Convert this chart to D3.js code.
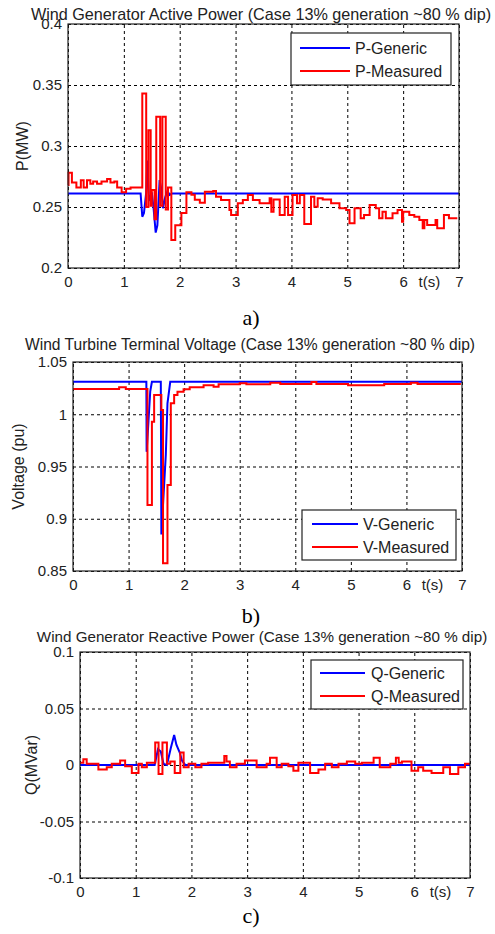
<!DOCTYPE html>
<html>
<head>
<meta charset="utf-8">
<script src="https://cdn.jsdelivr.net/npm/d3@7"></script>
<style>
  body { margin: 0; background: #fff; }
  svg { display: block; }
</style>
</head>
<body>
<div id="chart"></div>
<script>
const timeTicks = [0, 1, 2, 3, 4, 5, 6, 7]

// a) active power
const pTicks = [0.2, 0.25, 0.3, 0.35, 0.4]
const pGenT = [0, 1.30, 1.33, 1.36, 1.40, 1.42, 1.45, 1.50, 1.53, 1.57, 1.60, 1.64, 1.67, 1.70, 1.74, 1.78, 1.82, 1.86, 7]
const pGenV = [0.261, 0.261, 0.242, 0.245, 0.262, 0.288, 0.255, 0.262, 0.250, 0.229, 0.235, 0.272, 0.265, 0.249, 0.258, 0.263, 0.260, 0.261, 0.261]
const pMeasT = [0, 0.01, 0.07, 0.15, 0.23, 0.28, 0.34, 0.40, 0.45, 0.52, 0.60, 0.70, 0.76, 0.83, 0.88, 0.96, 1.04, 1.12, 1.33, 1.40,
  1.44, 1.48, 1.50, 1.55, 1.58, 1.65, 1.69, 1.75, 1.79, 1.85, 1.92, 2.03, 2.12, 2.21, 2.27, 2.36, 2.45, 2.60, 2.65, 2.74,
  2.89, 2.92, 3.04, 3.13, 3.22, 3.31, 3.43, 3.61, 3.64, 3.68, 3.79, 3.88, 3.94, 4.02, 4.10, 4.15, 4.23, 4.35, 4.41, 4.47,
  4.56, 4.71, 4.86, 4.98, 5.04, 5.13, 5.24, 5.30, 5.40, 5.51, 5.57, 5.63, 5.69, 5.81, 5.90, 5.98, 6.00, 6.11, 6.20, 6.29,
  6.35, 6.38, 6.43, 6.58, 6.61, 6.73, 6.82, 6.97]
const pMeasV = [0.268, 0.278, 0.270, 0.266, 0.272, 0.266, 0.272, 0.269, 0.271, 0.269, 0.271, 0.273, 0.270, 0.271, 0.266, 0.262, 0.265, 0.266, 0.343, 0.250,
  0.313, 0.251, 0.264, 0.240, 0.324, 0.251, 0.324, 0.248, 0.266, 0.223, 0.235, 0.245, 0.262, 0.260, 0.256, 0.2535, 0.2626, 0.2631, 0.2585, 0.2558,
  0.2476, 0.2435, 0.253, 0.2558, 0.2599, 0.2558, 0.253, 0.2571, 0.2462, 0.2562, 0.2435, 0.2585, 0.2435, 0.2599, 0.253, 0.2599, 0.2361, 0.2585, 0.2503, 0.2571,
  0.2562, 0.253, 0.2489, 0.2476, 0.2366, 0.2489, 0.2407, 0.2435, 0.2517, 0.2489, 0.2407, 0.2462, 0.2407, 0.2449, 0.2476, 0.238, 0.2462, 0.2435, 0.2421, 0.2394,
  0.2325, 0.2394, 0.2352, 0.2394, 0.2325, 0.2435, 0.2407, 0.2407]

// b) terminal voltage
const vTicks = [0.85, 0.9, 0.95, 1, 1.05]
const vGenT = [0, 1.32, 1.325, 1.36, 1.39, 1.42, 1.58, 1.59, 1.67, 1.70, 1.75, 7]
const vGenV = [1.031, 1.031, 0.964, 0.995, 1.022, 1.031, 1.031, 0.885, 0.961, 1.0105, 1.031, 1.031]
const vMeasT = [0, 0.83, 0.95, 1.34, 1.42, 1.46, 1.59, 1.62, 1.70, 1.76, 1.82, 1.88, 1.99, 2.10, 2.35, 2.53, 2.62, 3.00, 3.12, 3.55,
  3.73, 4.29, 4.38, 4.95, 5.60, 6.08, 6.20, 6.98]
const vMeasV = [1.0242, 1.0258, 1.0242, 0.9132, 0.9929, 1.0184, 1.004, 0.8574, 0.9323, 1.0105, 1.0184, 1.0216, 1.0239, 1.0258, 1.0278, 1.0264, 1.0286, 1.0296, 1.0286, 1.0302,
  1.029, 1.0309, 1.029, 1.0277, 1.029, 1.0302, 1.029, 1.029]

// c) reactive power
const qTicks = [-0.1, -0.05, 0, 0.05, 0.1]
const qGenT = [0, 1.34, 1.40, 1.45, 1.50, 1.56, 1.63, 1.69, 1.73, 1.79, 1.83, 1.89, 7]
const qGenV = [0, 0, 0.014, 0.012, 0.001, 0, 0.015, 0.0265, 0.018, 0.011, 0.004, 0, 0]
const qMeasT = [0, 0.06, 0.12, 0.33, 0.48, 0.57, 0.72, 0.81, 0.93, 1.05, 1.11, 1.20, 1.35, 1.41, 1.48, 1.56, 1.62, 1.70, 1.80, 1.86,
  1.95, 2.07, 2.18, 2.30, 2.59, 2.63, 2.69, 2.81, 2.96, 3.17, 3.35, 3.41, 3.53, 3.62, 3.74, 3.83, 3.92, 4.13, 4.28, 4.40,
  4.52, 4.64, 4.79, 4.94, 5.06, 5.27, 5.38, 5.57, 5.67, 5.72, 5.78, 5.95, 6.07, 6.16, 6.31, 6.52, 6.64, 6.79, 6.91, 7]
const qMeasV = [0.002, 0.005, 0.001, -0.004, -0.002, 0.001, 0.004, -0.001, -0.007, 0.001, -0.002, 0.002, 0.020, -0.008, 0.020, 0.001, 0.003, -0.007, 0.011, -0.002,
  0.001, -0.002, 0.001, 0.002, 0.008, 0.003, -0.002, 0.001, 0.004, -0.002, 0.001, 0.0065, -0.002, 0.001, -0.001, -0.005, 0.002, -0.007, -0.004, 0.001,
  -0.002, 0.001, 0.003, 0.001, 0.002, 0.0065, -0.002, 0.001, 0.0065, 0.002, 0.003, -0.005, -0.002, -0.005, -0.007, -0.002, -0.008, -0.002, 0.001, 0.001]

const width = 495
const height = 934
const font = "'Liberation Sans', Arial, sans-serif"

const svg = d3.select('#chart')
              .append('svg')
              .attr('width', width)
              .attr('height', height)

const panels = [
  {
    left: 68, right: 459, top: 24, bottom: 268,
    yDomain: [0.2, 0.4], yTicks: pTicks,
    title: 'Wind Generator Active Power (Case 13% generation ~80 % dip)', titleX: 261, titleY: 20, titleSize: 16.2,
    yLabel: 'P(MW)', yLabelX: 28,
    gen: [pGenT, pGenV], meas: [pMeasT, pMeasV],
    names: ['P-Generic', 'P-Measured'],
    legend: { x: 291, y: 33, w: 160, h: 52, lineX: 300, lineW: 50, textX: 355, rows: [48, 71] },
    tag: 'a)', tagY: 325
  },
  {
    left: 73, right: 462, top: 362, bottom: 571,
    yDomain: [0.85, 1.05], yTicks: vTicks,
    title: 'Wind Turbine Terminal Voltage (Case 13% generation ~80 % dip)', titleX: 250, titleY: 350, titleSize: 15.6,
    yLabel: 'Voltage (pu)', yLabelX: 24,
    gen: [vGenT, vGenV], meas: [vMeasT, vMeasV],
    names: ['V-Generic', 'V-Measured'],
    legend: { x: 302, y: 510, w: 154, h: 50, lineX: 312, lineW: 46, textX: 363, rows: [524, 547] },
    tag: 'b)', tagY: 623
  },
  {
    left: 80, right: 470, top: 652, bottom: 878,
    yDomain: [-0.1, 0.1], yTicks: qTicks,
    title: 'Wind Generator Reactive Power (Case 13% generation ~80 % dip)', titleX: 262, titleY: 642, titleSize: 15.2,
    yLabel: 'Q(MVar)', yLabelX: 37,
    gen: [qGenT, qGenV], meas: [qMeasT, qMeasV],
    names: ['Q-Generic', 'Q-Measured'],
    legend: { x: 311, y: 660, w: 152, h: 49, lineX: 320, lineW: 45, textX: 371, rows: [673, 696] },
    tag: 'c)', tagY: 923
  }
]

panels.forEach(drawPanel)

function drawPanel(p) {
  const innerWidth = p.right - p.left
  const innerHeight = p.bottom - p.top

  const g = svg.append('g')
               .attr('transform', `translate(${p.left}, ${p.top})`)

  const x = d3.scaleLinear()
              .domain([0, 7])
              .range([0, innerWidth])

  const y = d3.scaleLinear()
              .domain(p.yDomain)
              .range([innerHeight, 0])

  // x grid + tick labels
  const xAxis = g.append('g')
                 .attr('transform', `translate(0, ${innerHeight})`)
                 .call(d3.axisBottom(x).tickValues(timeTicks).tickSize(-innerHeight).tickPadding(8).tickFormat(d => String(d)))
  xAxis.select('.domain').remove()
  xAxis.selectAll('line')
       .attr('stroke', '#000')
       .attr('stroke-dasharray', '3,3')
  xAxis.selectAll('text')
       .attr('font-family', font)
       .attr('font-size', 15)
       .attr('fill', '#222')

  // y grid + tick labels
  const yAxis = g.append('g')
                 .call(d3.axisLeft(y).tickValues(p.yTicks).tickSize(-innerWidth).tickPadding(6).tickFormat(d => String(d)))
  yAxis.select('.domain').remove()
  yAxis.selectAll('line')
       .attr('stroke', '#000')
       .attr('stroke-dasharray', '3,3')
  yAxis.selectAll('text')
       .attr('font-family', font)
       .attr('font-size', 15)
       .attr('fill', '#222')

  g.append('text')
   .attr('x', x(6.47))
   .attr('y', innerHeight + 8)
   .attr('dy', '0.71em')
   .attr('text-anchor', 'middle')
   .attr('font-family', font)
   .attr('font-size', 15)
   .attr('fill', '#222')
   .text('t(s)')

  // series
  const line = d3.line()
                 .x(d => x(d[0]))
                 .y(d => y(d[1]))

  g.append('path')
   .datum(d3.zip(p.gen[0], p.gen[1]))
   .attr('fill', 'none')
   .attr('stroke', '#0000ff')
   .attr('stroke-width', 2)
   .attr('d', line)

  g.append('path')
   .datum(d3.zip(p.meas[0], p.meas[1]))
   .attr('fill', 'none')
   .attr('stroke', '#ff0000')
   .attr('stroke-width', 2)
   .attr('d', line.curve(d3.curveStepAfter))

  // box
  g.append('rect')
   .attr('width', innerWidth)
   .attr('height', innerHeight)
   .attr('fill', 'none')
   .attr('stroke', '#222')
   .attr('stroke-width', 1.2)

  // legend
  const lg = p.legend
  svg.append('rect')
     .attr('x', lg.x)
     .attr('y', lg.y)
     .attr('width', lg.w)
     .attr('height', lg.h)
     .attr('fill', '#fff')
     .attr('stroke', '#222')
     .attr('stroke-width', 1.2)

  const colors = ['#0000ff', '#ff0000']
  p.names.forEach((name, i) => {
    svg.append('line')
       .attr('x1', lg.lineX)
       .attr('x2', lg.lineX + lg.lineW)
       .attr('y1', lg.rows[i])
       .attr('y2', lg.rows[i])
       .attr('stroke', colors[i])
       .attr('stroke-width', 2)
    svg.append('text')
       .attr('x', lg.textX)
       .attr('y', lg.rows[i])
       .attr('dy', '0.35em')
       .attr('font-family', font)
       .attr('font-size', 16)
       .attr('fill', '#222')
       .text(name)
  })

  // titles and labels
  svg.append('text')
     .attr('x', p.titleX)
     .attr('y', p.titleY)
     .attr('text-anchor', 'middle')
     .attr('font-family', font)
     .attr('font-size', p.titleSize)
     .attr('fill', '#222')
     .text(p.title)

  svg.append('text')
     .attr('transform', `translate(${p.yLabelX}, ${(p.top + p.bottom) / 2}) rotate(-90)`)
     .attr('text-anchor', 'middle')
     .attr('font-family', font)
     .attr('font-size', 16)
     .attr('fill', '#222')
     .text(p.yLabel)

  svg.append('text')
     .attr('x', 251)
     .attr('y', p.tagY)
     .attr('text-anchor', 'middle')
     .attr('font-family', "'Liberation Serif', 'Times New Roman', serif")
     .attr('font-size', 22)
     .attr('fill', '#000')
     .text(p.tag)
}
</script>
</body>
</html>
